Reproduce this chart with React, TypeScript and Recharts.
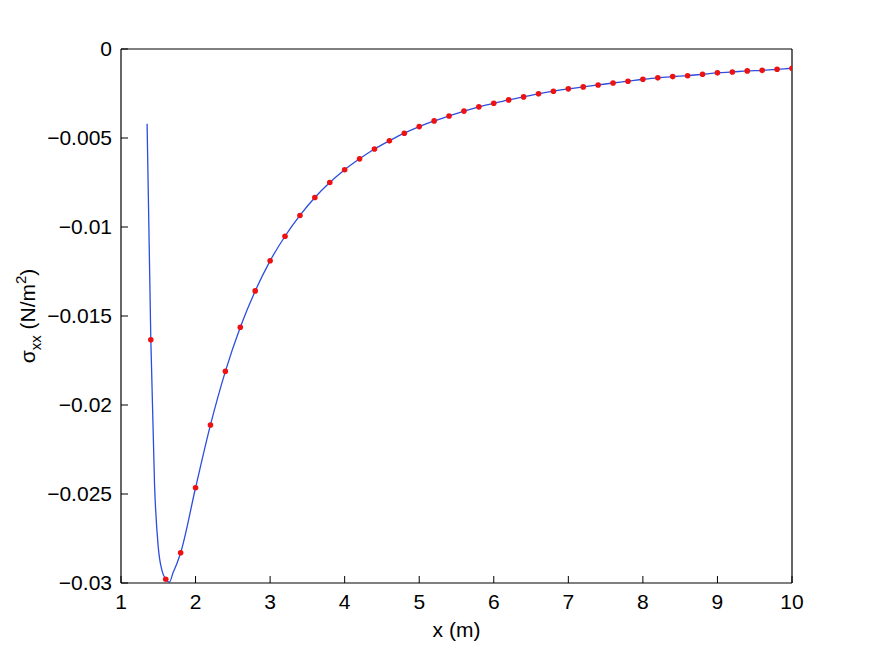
import { ComposedChart, Line, Scatter, XAxis, YAxis } from 'recharts';

// sampled points (red markers), x in m, sigma_xx in N/m^2
const dotX = [
    1.4, 1.6, 1.8, 2.0, 2.2, 2.4, 2.6, 2.8, 3.0, 3.2, 3.4, 3.6, 3.8, 4.0, 4.2,
    4.4, 4.6, 4.8, 5.0, 5.2, 5.4, 5.6, 5.8, 6.0, 6.2, 6.4, 6.6, 6.8, 7.0, 7.2,
    7.4, 7.6, 7.8, 8.0, 8.2, 8.4, 8.6, 8.8, 9.0, 9.2, 9.4, 9.6, 9.8, 10.0,
];
const dotY = [
    -0.01634, -0.02979, -0.0283, -0.02465, -0.02112, -0.01811, -0.01563, -0.01359,
    -0.0119, -0.01052, -0.00935, -0.00834, -0.0075, -0.00678, -0.00617, -0.00562,
    -0.00516, -0.00473, -0.00436, -0.00404, -0.00376, -0.00349, -0.00325, -0.00305,
    -0.00286, -0.00269, -0.00252, -0.00237, -0.00224, -0.00213, -0.00202, -0.00191,
    -0.00181, -0.0017, -0.00162, -0.00155, -0.0015, -0.00142, -0.00134, -0.00129,
    -0.00123, -0.0012, -0.00114, -0.00108,
];

// extra points of the continuous curve near the minimum
const curveExtraX = [1.35, 1.45, 1.5, 1.55, 1.65, 1.7, 1.75];
const curveExtraY = [-0.0042, -0.0245, -0.028, -0.0293, -0.02995, -0.0294, -0.0289];

const xTicks = [1, 2, 3, 4, 5, 6, 7, 8, 9, 10];
const yTicks = [-0.03, -0.025, -0.02, -0.015, -0.01, -0.005, 0];

const dotData = dotX.map((x, i) => ({ x, y: dotY[i] }));
const curveData = [
    ...dotData,
    ...curveExtraX.map((x, i) => ({ x, y: curveExtraY[i] })),
].sort((a, b) => a.x - b.x);

const FONT = '"Liberation Sans", Arial, Helvetica, sans-serif';
const FS = 21;
const TICK_SIZE = -7;

const formatY = (v: number) => (v === 0 ? '0' : '\u2212' + String(Math.abs(v)));

const YLabel = (props: any) => {
    const vb = props.viewBox || { x: 0, y: 0, width: 121, height: 534 };
    const cx = vb.x + 35;
    const cy = vb.y + vb.height / 2;
    return (
        <text
            x={cx}
            y={cy}
            transform={`rotate(-90, ${cx}, ${cy})`}
            textAnchor="middle"
            fontFamily={FONT}
            fontSize={FS}
            fill="#000"
        >
            <tspan>σ</tspan>
            <tspan fontSize={15} dy={6}>xx</tspan>
            <tspan dy={-6}> (N/m</tspan>
            <tspan fontSize={15} dy={-9}>2</tspan>
            <tspan dy={9}>)</tspan>
        </text>
    );
};

const XLabel = (props: any) => {
    const vb = props.viewBox || { x: 121, y: 583, width: 671, height: 73 };
    return (
        <text
            x={vb.x + vb.width / 2}
            y={vb.y + 54}
            textAnchor="middle"
            fontFamily={FONT}
            fontSize={FS}
            fill="#000"
        >
            x (m)
        </text>
    );
};

export default function App() {
    return (
        <div style={{ position: 'absolute', left: 0, top: 0, width: 873, height: 656, background: '#fff' }}>
            <ComposedChart
                width={873}
                height={656}
                margin={{ top: 48, right: 80, bottom: 0, left: 0 }}
                style={{ fontFamily: FONT }}
            >
                <XAxis
                    dataKey="x"
                    type="number"
                    domain={[1, 10]}
                    ticks={xTicks}
                    allowDataOverflow
                    height={73}
                    tickSize={TICK_SIZE}
                    tickMargin={18}
                    fontSize={FS}
                    tick={{ fill: '#000', fontSize: FS, fontFamily: FONT }}
                    axisLine={{ stroke: '#000', strokeWidth: 1.2 }}
                    tickLine={{ stroke: '#000' }}
                    label={{ content: XLabel }}
                />
                <XAxis
                    xAxisId="top"
                    orientation="top"
                    dataKey="x"
                    type="number"
                    domain={[1, 10]}
                    ticks={xTicks}
                    allowDataOverflow
                    height={1}
                    tickSize={TICK_SIZE}
                    tick={false}
                    axisLine={{ stroke: '#000', strokeWidth: 1.2 }}
                    tickLine={{ stroke: '#000' }}
                />
                <YAxis
                    type="number"
                    domain={[-0.03, 0]}
                    ticks={yTicks}
                    allowDataOverflow
                    width={121}
                    tickSize={TICK_SIZE}
                    tickMargin={16}
                    tickFormatter={formatY}
                    fontSize={FS}
                    tick={{ fill: '#000', fontSize: FS, fontFamily: FONT }}
                    axisLine={{ stroke: '#000', strokeWidth: 1.2 }}
                    tickLine={{ stroke: '#000' }}
                    label={{ content: YLabel }}
                />
                <YAxis
                    yAxisId="right"
                    orientation="right"
                    type="number"
                    domain={[-0.03, 0]}
                    ticks={yTicks}
                    allowDataOverflow
                    width={1}
                    tickSize={TICK_SIZE}
                    tick={false}
                    axisLine={{ stroke: '#000', strokeWidth: 1.2 }}
                    tickLine={{ stroke: '#000' }}
                />
                <Line
                    data={curveData}
                    dataKey="y"
                    type="monotone"
                    stroke="#2b4de0"
                    strokeWidth={1.3}
                    dot={false}
                    activeDot={false}
                    isAnimationActive={false}
                />
                <Scatter
                    data={dotData}
                    dataKey="y"
                    fill="#ee1111"
                    shape={(p: any) => <circle cx={p.cx} cy={p.cy} r={2.8} fill="#ee1111" />}
                    isAnimationActive={false}
                />
            </ComposedChart>
        </div>
    );
}
